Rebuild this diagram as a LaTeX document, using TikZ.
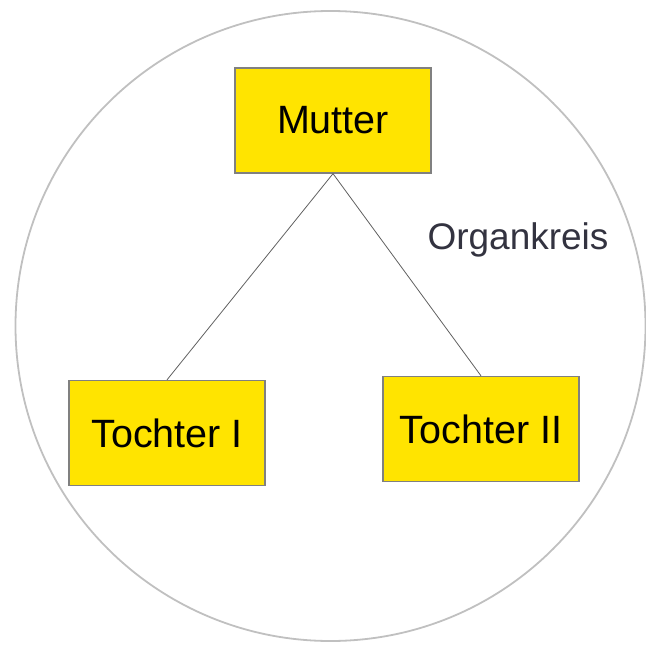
\documentclass[tikz,border=0pt]{standalone}
\usepackage{fontspec}
\setmainfont{Liberation Sans}
\definecolor{boxyellow}{HTML}{FFE400}
\definecolor{boxborder}{HTML}{808080}
\definecolor{circlegray}{HTML}{C0C0C0}
\definecolor{labelgray}{HTML}{333340}
\definecolor{linegray}{HTML}{606060}
\tikzset{
  organbox/.style={draw=boxborder, line width=1.3pt, fill=boxyellow, minimum width=196pt, minimum height=105pt, inner sep=0pt, font=\fontsize{39.5}{44}\selectfont, text=black},
  connector/.style={draw=linegray, line width=0.8pt}
}
\begin{document}
\begin{tikzpicture}[x=1pt,y=-1pt]
\useasboundingbox (0,0) rectangle (646,645);
\draw[circlegray, line width=1.8pt] (330.5,326) circle (315pt);
\node[organbox] (mutter) at (333,120.5) {Mutter};
\node[organbox] (t1) at (167,433) {Tochter I};
\node[organbox] (t2) at (481,429) {Tochter II};
\node[text=labelgray, font=\fontsize{37}{42}\selectfont] (organ) at (518,240) {Organkreis};
\draw[connector] (mutter.south) -- (t1.north);
\draw[connector] (mutter.south) -- (t2.north);
\end{tikzpicture}
\end{document}
